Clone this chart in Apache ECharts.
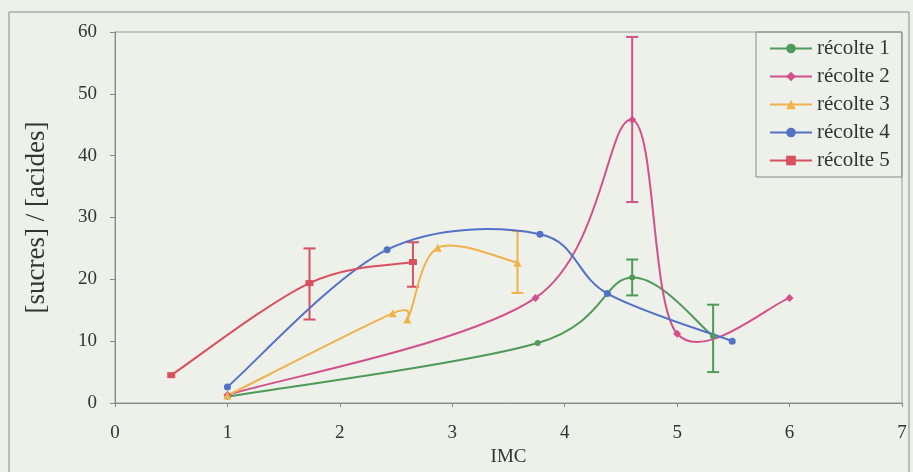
<!DOCTYPE html>
<html>
<head>
<meta charset="utf-8">
<script src="https://cdn.jsdelivr.net/npm/echarts@6/dist/echarts.min.js"></script>
<style>
  html, body { margin: 0; padding: 0; background: #eef0ea; }
  #chart { width: 913px; height: 472px; }
</style>
</head>
<body>
<div id="chart"></div>
<script>
// Harvest series: [IMC, sugars/acids ratio]
const recolte1 = [[1.0, 1.0], [3.76, 9.7], [4.6, 20.3], [5.32, 10.8]];
const recolte2 = [[1.0, 1.3], [3.74, 17.0], [4.6, 45.8], [5.0, 11.2], [6.0, 17.0]];
const recolte3 = [[1.0, 1.2], [2.47, 14.5], [2.6, 13.5], [2.87, 25.1], [3.58, 22.7]];
const recolte4 = [[1.0, 2.6], [2.42, 24.8], [3.78, 27.3], [4.38, 17.7], [5.49, 10.0]];
const recolte5 = [[0.5, 4.5], [1.73, 19.4], [2.65, 22.8]];

// Error bars: [IMC, low, high]
const err1 = [[4.6, 17.4, 23.2], [5.32, 5.0, 15.9]];
const err2 = [[4.6, 32.5, 59.2]];
const err3 = [[3.58, 17.8, 27.8]];
const err5 = [[1.73, 13.5, 25.0], [2.65, 18.8, 26.0]];

const seriesNames = ['récolte 1', 'récolte 2', 'récolte 3', 'récolte 4', 'récolte 5'];
const xTicks = [0, 1, 2, 3, 4, 5, 6, 7];
const yTicks = [0, 10, 20, 30, 40, 50, 60];

const colors = ['#4f9a58', '#d2508c', '#f0b24a', '#5272c6', '#d8515e'];
const serif = '"Liberation Serif", "DejaVu Serif", serif';

// Markers only; the connecting curve is drawn by smoothCurve below.
function markerSeries(name, data, color, symbol, size) {
  return {
    name: name, type: 'line', data: data,
    symbol: symbol, symbolSize: size,
    lineStyle: { color: color, width: 2, opacity: 0 },
    itemStyle: { color: color },
    emphasis: { disabled: true },
    z: 4
  };
}

// Cardinal (Catmull-Rom, 1/6 tension) spline through the points, in pixel space.
function smoothCurve(name, data, color) {
  return {
    name: name + ' (courbe)', type: 'custom', data: data, z: 3, silent: true,
    renderItem: function (params, api) {
      if (params.dataIndex !== 0) return { type: 'group', children: [] };
      const p = data.map(d => api.coord(d));
      const n = p.length;
      let path = 'M' + p[0][0] + ' ' + p[0][1];
      for (let i = 0; i < n - 1; i++) {
        const a = p[Math.max(i - 1, 0)], b = p[i], c = p[i + 1], d = p[Math.min(i + 2, n - 1)];
        const c1x = b[0] + (c[0] - a[0]) / 6, c1y = b[1] + (c[1] - a[1]) / 6;
        const c2x = c[0] - (d[0] - b[0]) / 6, c2y = c[1] - (d[1] - b[1]) / 6;
        path += ' C' + c1x + ' ' + c1y + ' ' + c2x + ' ' + c2y + ' ' + c[0] + ' ' + c[1];
      }
      return {
        type: 'path',
        shape: { pathData: path },
        style: { fill: 'none', stroke: color, lineWidth: 2 }
      };
    }
  };
}

function errorSeries(name, data, color) {
  return {
    name: name, type: 'custom', data: data, z: 2, silent: true,
    renderItem: function (params, api) {
      const x = api.value(0);
      const lo = api.coord([x, api.value(1)]);
      const hi = api.coord([x, api.value(2)]);
      const cap = 6;
      const style = { stroke: color, lineWidth: 2 };
      return {
        type: 'group',
        children: [
          { type: 'line', shape: { x1: lo[0], y1: lo[1], x2: hi[0], y2: hi[1] }, style: style },
          { type: 'line', shape: { x1: hi[0] - cap, y1: hi[1], x2: hi[0] + cap, y2: hi[1] }, style: style },
          { type: 'line', shape: { x1: lo[0] - cap, y1: lo[1], x2: lo[0] + cap, y2: lo[1] }, style: style }
        ]
      };
    }
  };
}

const chart = echarts.init(document.getElementById('chart'), null, { renderer: 'canvas' });

chart.setOption({
  backgroundColor: '#eef0ea',
  animation: false,
  textStyle: { fontFamily: serif },
  graphic: [{
    type: 'rect', silent: true, z: -1,
    shape: { x: 9, y: 12, width: 900, height: 470 },
    style: { fill: 'none', stroke: '#8a8a8a', lineWidth: 1 }
  }],
  grid: {
    left: 115, right: 11, top: 32, bottom: 64,
    show: true, borderColor: '#9a9a9a', borderWidth: 1,
    backgroundColor: 'transparent'
  },
  legend: {
    data: seriesNames.map((n, i) => ({
      name: n,
      lineStyle: { color: colors[i], width: 2, opacity: 1 }
    })),
    orient: 'vertical',
    left: 756, top: 32,
    itemWidth: 42, itemHeight: 12, itemGap: 7,
    padding: [6, 12, 6, 13],
    borderColor: '#8a8a8a', borderWidth: 1,
    textStyle: { fontFamily: serif, fontSize: 21, lineHeight: 21, color: '#333' }
  },
  xAxis: {
    type: 'value', min: 0, max: 7, interval: 1,
    name: 'IMC', nameLocation: 'middle', nameGap: 45,
    nameTextStyle: { fontFamily: serif, fontSize: 19, color: '#333' },
    axisLine: { onZero: false, lineStyle: { color: '#888', width: 1 } },
    axisTick: { show: true, length: 4, inside: false, lineStyle: { color: '#888' } },
    axisLabel: {
      margin: 21, fontFamily: serif, fontSize: 19, color: '#333',
      formatter: v => (xTicks.includes(v) ? String(v) : '')
    },
    splitLine: { show: false }
  },
  yAxis: {
    type: 'value', min: 0, max: 60, interval: 10,
    name: '[sucres] / [acides]', nameLocation: 'middle', nameGap: 65,
    nameTextStyle: { fontFamily: serif, fontSize: 27, color: '#333' },
    axisLine: { show: true, lineStyle: { color: '#888', width: 1 } },
    axisTick: { show: true, length: 5, inside: false, lineStyle: { color: '#888' } },
    axisLabel: {
      margin: 18, fontFamily: serif, fontSize: 19, color: '#333',
      formatter: v => (yTicks.includes(v) ? String(v) : '')
    },
    splitLine: { show: false }
  },
  series: [
    errorSeries('e1', err1, colors[0]),
    errorSeries('e2', err2, colors[1]),
    errorSeries('e3', err3, colors[2]),
    errorSeries('e5', err5, colors[4]),
    smoothCurve(seriesNames[0], recolte1, colors[0]),
    smoothCurve(seriesNames[1], recolte2, colors[1]),
    smoothCurve(seriesNames[2], recolte3, colors[2]),
    smoothCurve(seriesNames[3], recolte4, colors[3]),
    smoothCurve(seriesNames[4], recolte5, colors[4]),
    markerSeries(seriesNames[0], recolte1, colors[0], 'circle', 6),
    markerSeries(seriesNames[1], recolte2, colors[1], 'diamond', 8),
    markerSeries(seriesNames[2], recolte3, colors[2], 'triangle', 8),
    markerSeries(seriesNames[3], recolte4, colors[3], 'circle', 7),
    markerSeries(seriesNames[4], recolte5, colors[4], 'rect', [8, 6])
  ]
});
</script>
</body>
</html>
